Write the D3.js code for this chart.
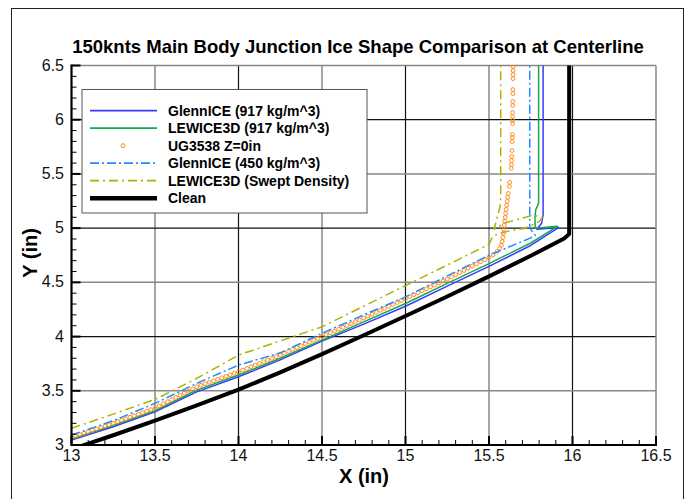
<!DOCTYPE html>
<html>
<head>
<meta charset="utf-8">
<script src="https://cdn.jsdelivr.net/npm/d3@7"></script>
<style>
  body { margin: 0; background: #fff; }
  svg { display: block; }
  text { font-family: "Liberation Sans", Arial, Helvetica, sans-serif; }
</style>
</head>
<body>
<svg id="chart" width="688" height="499"></svg>
<script>
// ---- Ice shape profiles at the centerline (inches) ----
const cleanX = [13.0, 13.25, 13.5, 13.75, 14.0, 14.25, 14.5, 14.75, 15.0, 15.25, 15.5, 15.75, 15.95, 15.98, 15.98];
const cleanY = [2.96, 3.09, 3.225, 3.365, 3.51, 3.67, 3.838, 4.012, 4.19, 4.37, 4.555, 4.745, 4.905, 4.945, 6.6];

const glenn917X = [13.0, 13.25, 13.5, 13.75, 14.0, 14.25, 14.5, 14.75, 15.0, 15.25, 15.5, 15.75, 15.916, 15.787, 15.797, 15.815, 15.824, 15.824];
const glenn917Y = [3.046, 3.169, 3.307, 3.49, 3.629, 3.785, 3.958, 4.115, 4.28, 4.465, 4.648, 4.84, 5.005, 4.99, 5.01, 5.045, 5.12, 6.6];

const lewice917X = [13.0, 13.25, 13.5, 13.75, 14.0, 14.25, 14.5, 14.75, 15.0, 15.25, 15.5, 15.75, 15.91, 15.777, 15.775, 15.78, 15.797, 15.797];
const lewice917Y = [3.055, 3.18, 3.316, 3.506, 3.645, 3.80, 3.967, 4.135, 4.305, 4.49, 4.673, 4.863, 5.017, 4.998, 5.10, 5.17, 5.23, 6.6];

const glenn450X = [13.0, 13.25, 13.5, 13.75, 14.0, 14.25, 14.5, 14.75, 15.0, 15.25, 15.5, 15.75, 15.777, 15.744, 15.744];
const glenn450Y = [3.092, 3.224, 3.384, 3.568, 3.737, 3.85, 4.03, 4.2, 4.366, 4.56, 4.75, 4.91, 4.934, 5.0, 6.6];

const lewiceSweptX = [13.0, 13.25, 13.5, 13.75, 14.0, 14.25, 14.5, 14.75, 15.0, 15.25, 15.5, 15.525, 15.62, 15.72, 15.8, 15.82, 15.765, 15.6, 15.53, 15.545, 15.567, 15.57, 15.57];
const lewiceSweptY = [3.154, 3.285, 3.42, 3.614, 3.829, 3.96, 4.09, 4.28, 4.47, 4.66, 4.85, 4.93, 4.975, 5.0, 5.06, 5.10, 5.12, 5.05, 4.99, 5.08, 5.2, 5.3, 6.6];

// UG3538 Z=0in measured points
const ugX = [
  13.000, 13.025, 13.050, 13.075, 13.100, 13.125, 13.150, 13.175, 13.200, 13.225,
  13.250, 13.275, 13.300, 13.325, 13.350, 13.375, 13.400, 13.425, 13.450, 13.475,
  13.500, 13.525, 13.550, 13.575, 13.600, 13.625, 13.650, 13.675, 13.700, 13.725,
  13.750, 13.775, 13.800, 13.825, 13.850, 13.875, 13.900, 13.925, 13.950, 13.975,
  14.000, 14.025, 14.050, 14.075, 14.100, 14.125, 14.150, 14.175, 14.200, 14.225,
  14.250, 14.275, 14.300, 14.325, 14.350, 14.375, 14.400, 14.425, 14.450, 14.475,
  14.500, 14.525, 14.550, 14.575, 14.600, 14.625, 14.650, 14.675, 14.700, 14.725,
  14.750, 14.775, 14.800, 14.825, 14.850, 14.875, 14.900, 14.925, 14.950, 14.975,
  15.000, 15.025, 15.050, 15.075, 15.100, 15.125, 15.150, 15.175, 15.200, 15.225,
  15.250, 15.275, 15.300, 15.325, 15.350, 15.375, 15.400, 15.425, 15.450, 15.475,
  15.500, 15.525, 15.549, 15.564, 15.574, 15.579, 15.583, 15.586, 15.589, 15.591,
  15.594, 15.597, 15.600, 15.603, 15.606, 15.609, 15.612, 15.615, 15.622, 15.624,
  15.633, 15.634, 15.635, 15.636, 15.638, 15.639, 15.640, 15.640, 15.641, 15.641,
  15.641, 15.641, 15.642, 15.642, 15.643, 15.643, 15.644, 15.644, 15.644, 15.644
];
const ugY = [
  3.070, 3.083, 3.096, 3.109, 3.122, 3.135, 3.148, 3.161, 3.174, 3.187,
  3.200, 3.214, 3.228, 3.242, 3.256, 3.270, 3.284, 3.298, 3.312, 3.326,
  3.340, 3.360, 3.379, 3.399, 3.419, 3.439, 3.458, 3.478, 3.498, 3.517,
  3.537, 3.551, 3.565, 3.578, 3.592, 3.606, 3.620, 3.634, 3.647, 3.661,
  3.675, 3.691, 3.706, 3.722, 3.737, 3.753, 3.768, 3.784, 3.799, 3.815,
  3.830, 3.847, 3.864, 3.881, 3.898, 3.915, 3.932, 3.949, 3.966, 3.983,
  4.000, 4.017, 4.034, 4.051, 4.068, 4.085, 4.102, 4.119, 4.136, 4.153,
  4.170, 4.188, 4.206, 4.224, 4.242, 4.260, 4.278, 4.296, 4.314, 4.332,
  4.350, 4.368, 4.386, 4.404, 4.422, 4.440, 4.458, 4.476, 4.494, 4.512,
  4.530, 4.550, 4.570, 4.590, 4.610, 4.630, 4.650, 4.670, 4.690, 4.710,
  4.730, 4.755, 4.786, 4.814, 4.842, 4.878, 4.915, 4.952, 4.989, 5.026,
  5.063, 5.099, 5.136, 5.173, 5.210, 5.247, 5.284, 5.320, 5.385, 5.422,
  5.551, 5.587, 5.624, 5.661, 5.716, 5.799, 5.836, 5.864, 5.965, 5.993,
  6.029, 6.066, 6.131, 6.168, 6.241, 6.278, 6.379, 6.416, 6.453, 6.490
];

const xTickValues = [13, 13.5, 14, 14.5, 15, 15.5, 16, 16.5];
const xTickLabels = ["13", "13.5", "14", "14.5", "15", "15.5", "16", "16.5"];
const yTickValues = [3, 3.5, 4, 4.5, 5, 5.5, 6, 6.5];
const yTickLabels = ["3", "3.5", "4", "4.5", "5", "5.5", "6", "6.5"];

const legendLabels = ["GlennICE (917 kg/m^3)", "LEWICE3D (917 kg/m^3)", "UG3538 Z=0in",
                      "GlennICE (450 kg/m^3)", "LEWICE3D (Swept Density)", "Clean"];

// ---- Styles ----
const styles = {
  glenn917:    { color: "#3b3bff", width: 1.5, dash: null },
  lewice917:   { color: "#12a84e", width: 1.5, dash: null },
  ug:          { color: "#ff8a1c" },
  glenn450:    { color: "#1e8cff", width: 1.5, dash: "9,3,2,3" },
  lewiceSwept: { color: "#b0b000", width: 1.5, dash: "9,4,2,4" },
  clean:       { color: "#000000", width: 4, dash: null }
};

const svg = d3.select("#chart");
const plotLeft = 71.5, plotRight = 656, plotTop = 65.5, plotBottom = 445;

const x = d3.scaleLinear().domain([13, 16.5]).range([plotLeft, plotRight]);
const y = d3.scaleLinear().domain([3, 6.5]).range([plotBottom, plotTop]);

// Outer frame
svg.append("rect").attr("x", 11.5).attr("y", 8.5).attr("width", 672).attr("height", 500)
  .attr("fill", "none").attr("stroke", "#222").attr("stroke-width", 1);

// Title
svg.append("text").attr("x", 358).attr("y", 53)
  .attr("text-anchor", "middle").attr("font-weight", "bold").attr("font-size", 18.5)
  .attr("fill", "#000")
  .text("150knts Main Body Junction Ice Shape Comparison at Centerline");

// Grid lines: whole inches darker, half inches lighter
const isWhole = v => Math.abs(v - Math.round(v)) < 1e-9;
const grid = svg.append("g");
xTickValues.filter(v => v > 13 && v < 16.5).forEach(v => {
  grid.append("line").attr("x1", x(v)).attr("x2", x(v)).attr("y1", plotTop).attr("y2", plotBottom)
    .attr("stroke", isWhole(v) ? "#111" : "#888").attr("stroke-width", isWhole(v) ? 1.2 : 1.5);
});
yTickValues.filter(v => v > 3 && v < 6.5).forEach(v => {
  grid.append("line").attr("x1", plotLeft).attr("x2", plotRight).attr("y1", y(v)).attr("y2", y(v))
    .attr("stroke", isWhole(v) ? "#111" : "#888").attr("stroke-width", isWhole(v) ? 1.2 : 1.5);
});

// Top and right frame of the plot
svg.append("line").attr("x1", plotLeft).attr("x2", plotRight).attr("y1", plotTop).attr("y2", plotTop)
  .attr("stroke", "#888").attr("stroke-width", 1.5);
svg.append("line").attr("x1", plotRight).attr("x2", plotRight).attr("y1", plotTop).attr("y2", plotBottom)
  .attr("stroke", "#888").attr("stroke-width", 1.5);

// Clip region for data
svg.append("clipPath").attr("id", "plotClip").append("rect")
  .attr("x", plotLeft).attr("y", plotTop).attr("width", plotRight - plotLeft).attr("height", plotBottom - plotTop);

const plot = svg.append("g").attr("clip-path", "url(#plotClip)");
const line = d3.line().x(d => x(d[0])).y(d => y(d[1]));
const zip = (a, b) => a.map((v, i) => [v, b[i]]);

function drawLine(xs, ys, st) {
  plot.append("path").datum(zip(xs, ys))
    .attr("d", line)
    .attr("fill", "none")
    .attr("stroke", st.color)
    .attr("stroke-width", st.width)
    .attr("stroke-linejoin", "round")
    .attr("stroke-dasharray", st.dash);
}

drawLine(glenn917X, glenn917Y, styles.glenn917);
drawLine(lewice917X, lewice917Y, styles.lewice917);
plot.append("g").selectAll("circle").data(zip(ugX, ugY)).join("circle")
  .attr("cx", d => x(d[0])).attr("cy", d => y(d[1])).attr("r", 1.9)
  .attr("fill", "none").attr("stroke", styles.ug.color).attr("stroke-width", 1);
drawLine(glenn450X, glenn450Y, styles.glenn450);
drawLine(lewiceSweptX, lewiceSweptY, styles.lewiceSwept);
drawLine(cleanX, cleanY, styles.clean);

// Axes (left and bottom) with inward ticks
const minorX = d3.range(130, 166).map(v => v / 10);
const minorY = d3.range(30, 66).map(v => v / 10);
const axes = svg.append("g");
minorX.forEach(v => {
  const major = Math.abs(v * 2 - Math.round(v * 2)) < 1e-9;
  axes.append("line").attr("x1", x(v)).attr("x2", x(v)).attr("y1", plotBottom).attr("y2", plotBottom - (major ? 9 : 5))
    .attr("stroke", "#000").attr("stroke-width", major ? 2 : 1);
});
minorY.forEach(v => {
  const major = Math.abs(v * 2 - Math.round(v * 2)) < 1e-9;
  axes.append("line").attr("x1", plotLeft).attr("x2", plotLeft + (major ? 9 : 5)).attr("y1", y(v)).attr("y2", y(v))
    .attr("stroke", "#000").attr("stroke-width", major ? 2 : 1);
});
axes.append("line").attr("x1", plotLeft).attr("x2", plotRight + 1).attr("y1", plotBottom).attr("y2", plotBottom)
  .attr("stroke", "#000").attr("stroke-width", 2.2);
axes.append("line").attr("x1", plotLeft).attr("x2", plotLeft).attr("y1", plotTop - 1).attr("y2", plotBottom + 1)
  .attr("stroke", "#000").attr("stroke-width", 2.2);

// Tick labels
xTickValues.forEach((v, i) => {
  axes.append("text").attr("x", x(v)).attr("y", 461).attr("text-anchor", "middle")
    .attr("font-size", 16).attr("fill", "#111").text(xTickLabels[i]);
});
yTickValues.forEach((v, i) => {
  axes.append("text").attr("x", 64).attr("y", y(v) + 5).attr("text-anchor", "end")
    .attr("font-size", 16).attr("fill", "#111").text(yTickLabels[i]);
});

// Axis titles
svg.append("text").attr("x", 364).attr("y", 483).attr("text-anchor", "middle")
  .attr("font-weight", "bold").attr("font-size", 20).text("X (in)");
svg.append("text").attr("transform", "translate(37,253) rotate(-90)").attr("text-anchor", "middle")
  .attr("font-weight", "bold").attr("font-size", 20).text("Y (in)");

// Legend
const legend = svg.append("g");
legend.append("rect").attr("x", 82).attr("y", 89.5).attr("width", 285).attr("height", 123.5)
  .attr("fill", "#fff").attr("stroke", "#555").attr("stroke-width", 1);
const legendStyles = [styles.glenn917, styles.lewice917, styles.ug, styles.glenn450, styles.lewiceSwept, styles.clean];
legendLabels.forEach((lab, i) => {
  const cy = 110.7 + i * 17.5;
  const st = legendStyles[i];
  if (i === 2) {
    legend.append("circle").attr("cx", 123).attr("cy", cy).attr("r", 2)
      .attr("fill", "none").attr("stroke", st.color).attr("stroke-width", 1);
  } else {
    legend.append("line").attr("x1", 90).attr("x2", 157).attr("y1", cy).attr("y2", cy)
      .attr("stroke", st.color).attr("stroke-width", i === 5 ? 4.5 : 1.7)
      .attr("stroke-dasharray", st.dash);
  }
  legend.append("text").attr("x", 168).attr("y", cy + 5).attr("font-size", 14)
    .attr("font-weight", "bold").attr("fill", "#000").text(lab);
});
</script>
</body>
</html>
